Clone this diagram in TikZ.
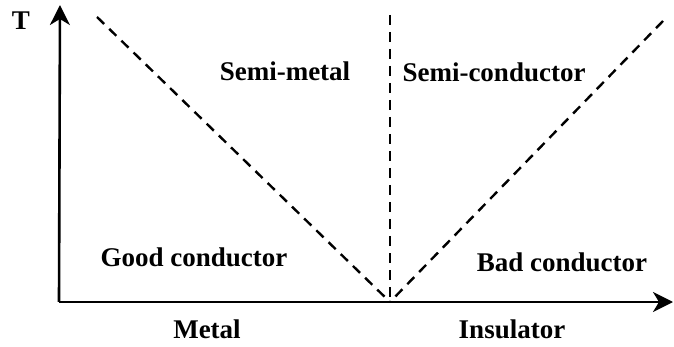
\documentclass[tikz,border=0pt]{standalone}
\usepackage{fontspec}
\setmainfont{Liberation Serif}
\usetikzlibrary{arrows.meta}
\tikzset{
  lbl/.style={anchor=base, inner sep=0pt, font=\fontsize{27}{31}\selectfont\bfseries},
  axis/.style={line width=2.6pt, -{Stealth[length=20pt,width=20pt,inset=6pt]}},
  dline/.style={line width=2.4pt, dash pattern=on 10pt off 7pt}
}
\begin{document}
\begin{tikzpicture}[x=1pt,y=-1pt]
\useasboundingbox (0,0) rectangle (674,347);
\coordinate (O) at (59,302);
\coordinate (Ytop) at (60,5);
\coordinate (Xend) at (673,302);
\coordinate (M) at (390,302);
\coordinate (L) at (97,17);
\coordinate (V) at (390,15);
\coordinate (R) at (663,21);
\draw[axis] (O) -- (Ytop);
\draw[axis] (O) -- (Xend);
\draw[dline] (L) -- (M);
\draw[dline] (V) -- (M);
\draw[dline] (R) -- (M);
\node[lbl] (t) at (21,30) {T};
\node[lbl] (sm) at (285,81) {Semi-metal};
\node[lbl] (sc) at (494,82) {Semi-conductor};
\node[lbl] (gc) at (194,266) {Good conductor};
\node[lbl] (bc) at (562,271) {Bad conductor};
\node[lbl] (me) at (207,338) {Metal};
\node[lbl] (in) at (512,338) {Insulator};
\end{tikzpicture}
\end{document}
